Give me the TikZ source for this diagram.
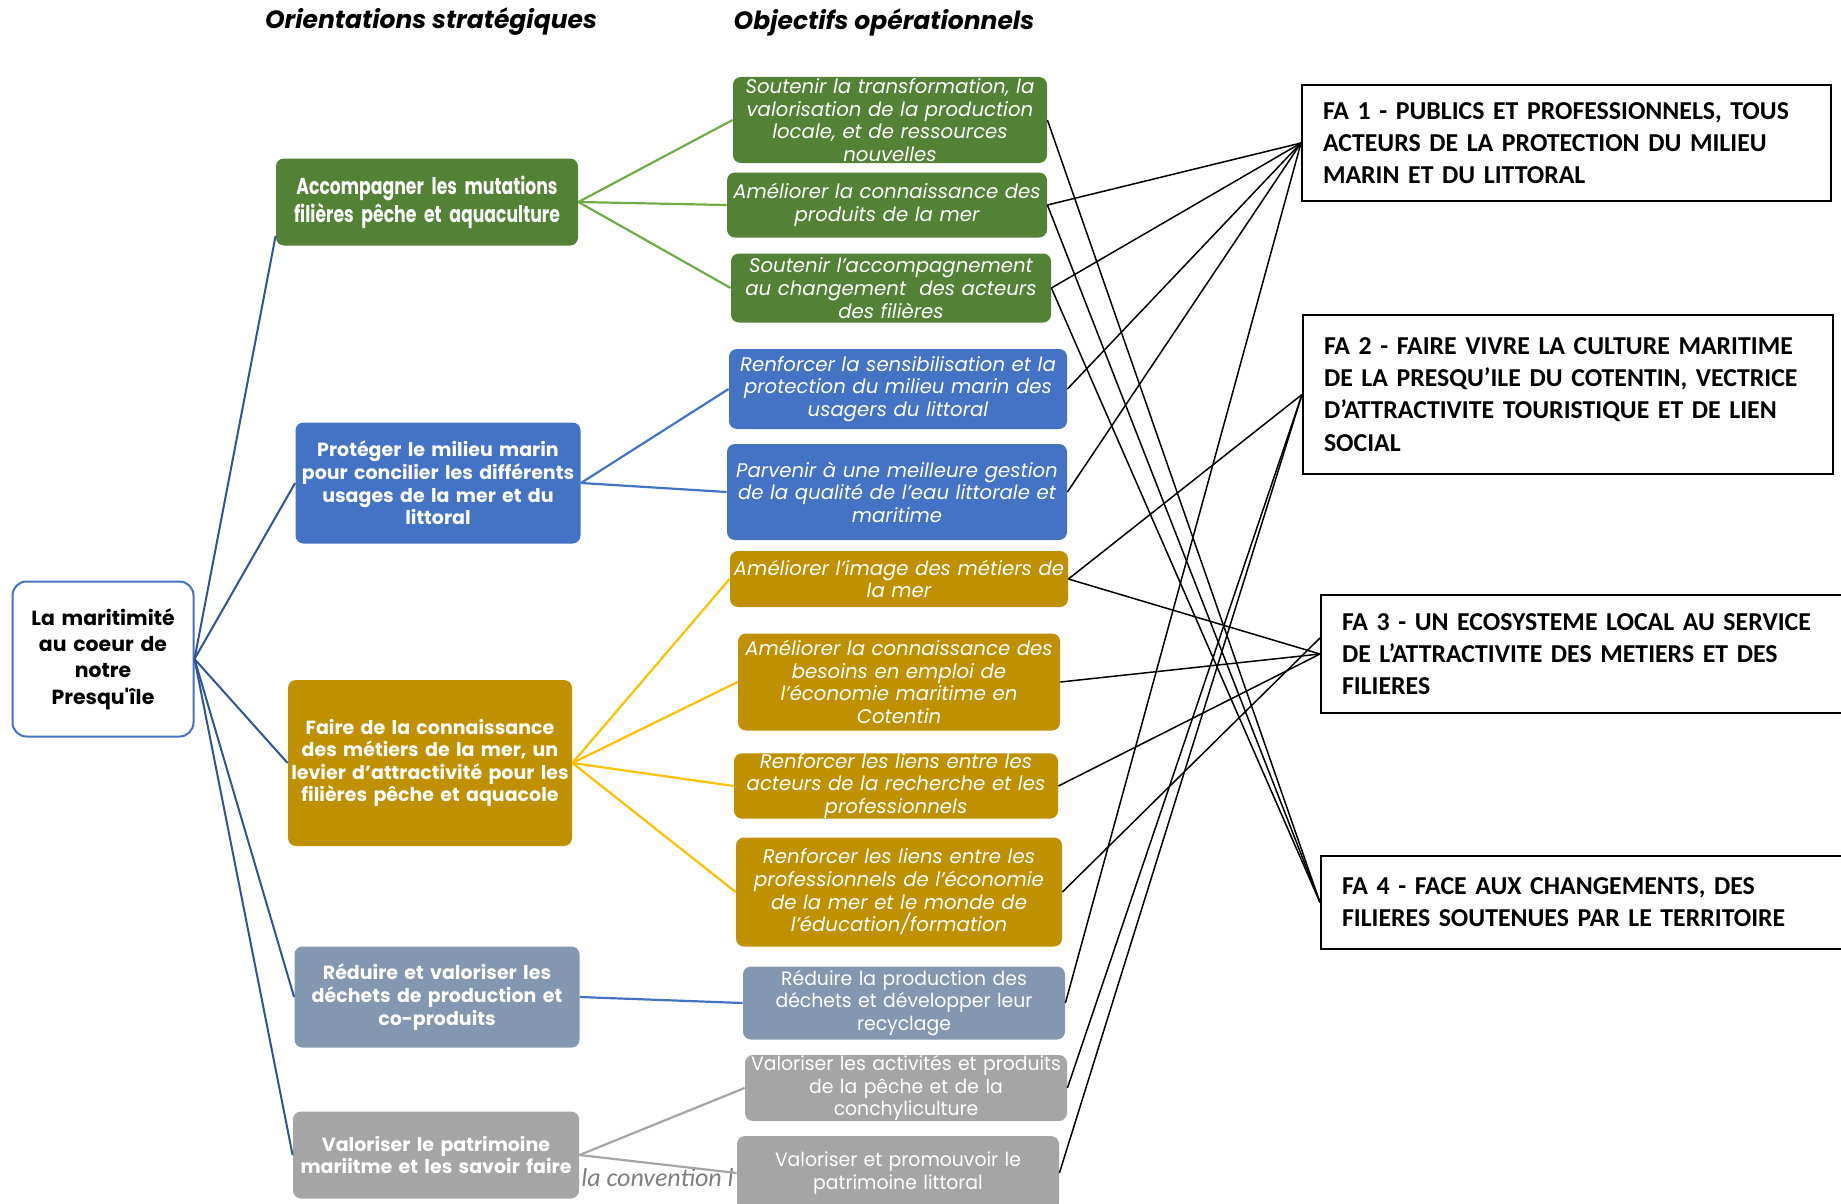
\documentclass[tikz,border=0pt]{standalone}
\usepackage{fontspec}
\setmainfont{Poppins}
\newfontfamily\gothic{Poppins}
\newfontfamily\gothiccond[FakeStretch=0.75]{Poppins}
\newfontfamily\gothicnarrow[FakeStretch=0.97]{Poppins}
\newfontfamily\calibri{Carlito}
\usetikzlibrary{calc}
\definecolor{gbox}{HTML}{538135}
\definecolor{gline}{HTML}{70AD47}
\definecolor{bbox}{HTML}{4472C4}
\definecolor{bline}{HTML}{4472C4}
\definecolor{rline}{HTML}{2F5597}
\definecolor{ybox}{HTML}{BF9000}
\definecolor{yline}{HTML}{FFC000}
\definecolor{sbox}{HTML}{8497B0}
\definecolor{gybox}{HTML}{A5A5A5}
\definecolor{gyline}{HTML}{A5A5A5}
\definecolor{conv}{HTML}{7F7F7F}
\begin{document}
\begin{tikzpicture}[x=0.5pt,y=-0.5pt,
  box/.style={rectangle, rounded corners=4pt, inner xsep=1pt, inner ysep=0pt, align=center, text=white},
  objbox/.style={box, font=\gothic\itshape\fontsize{9.85}{11.3}\selectfont},
  objnarrow/.style={box, font=\gothicnarrow\fontsize{9.7}{11.3}\selectfont},
  orbox/.style={box, font=\gothic\bfseries\fontsize{9.5}{11.3}\selectfont},
  orcond/.style={box, font=\gothiccond\bfseries\fontsize{11.5}{14}\selectfont},
  rootbox/.style={rectangle, rounded corners=7pt, draw=bbox, line width=1pt, fill=white, align=center, inner sep=0pt, font=\gothic\bfseries\fontsize{10.2}{13.1}\selectfont},
  fabox/.style={rectangle, draw=black, line width=1pt, fill=white, inner xsep=10.5pt, inner ysep=0pt, align=left, font=\calibri\bfseries\fontsize{12.9}{16.1}\selectfont},
  titlelbl/.style={font=\gothic\bfseries\itshape\fontsize{12.5}{15}\selectfont},
  convlbl/.style={font=\calibri\itshape\fontsize{13}{15}\selectfont, text=conv, inner sep=0pt},
  rootlink/.style={draw=rline, line width=1pt},
  greenlink/.style={draw=gline, line width=1.1pt},
  bluelink/.style={draw=bline, line width=1.1pt},
  yellowlink/.style={draw=yline, line width=1.1pt},
  graylink/.style={draw=gyline, line width=1.1pt},
  falink/.style={draw=black, line width=0.75pt}
]
\fill[white] (0,0) rectangle (1841,1204);
\useasboundingbox (0,0) rectangle (1841,1204);

% titles
\node[titlelbl] (t1) at (431,22) {Orientations stratégiques};
\node[titlelbl] (t2) at (884,22) {Objectifs opérationnels};

% root
\node[rootbox, minimum width=90.5pt, minimum height=77.5pt, text width=86pt] (root) at (103,659) {La maritimité\\au coeur de\\notre\\Presqu'île};

% orientations
\node[orcond, fill=gbox, minimum width=151pt, minimum height=43.5pt, text width=148pt] (O1) at (427,202) {Accompagner les mutations\\filières pêche et aquaculture};
\node[orbox, fill=bbox, minimum width=142.5pt, minimum height=60.5pt, text width=140pt] (O2) at (438,483) {Protéger le milieu marin\\pour concilier les différents\\usages de la mer et du\\littoral};
\node[orbox, fill=ybox, minimum width=142pt, minimum height=83pt, text width=140pt] (O3) at (430,763) {Faire de la connaissance\\des métiers de la mer, un\\levier d’attractivité pour les\\filières pêche et aquacole};
\node[orbox, fill=sbox, minimum width=142.5pt, minimum height=50.5pt, text width=140pt] (O4) at (437,997) {Réduire et valoriser les\\déchets de production et\\co-produits};

\node[convlbl, anchor=base west] (conv) at (581,1186) {la convention l};

\node[orbox, fill=gybox, minimum width=143pt, minimum height=43.5pt, text width=140pt] (O5) at (436,1155) {Valoriser le patrimoine\\mariitme et les savoir faire};

% objectives
\node[objbox, fill=gbox, minimum width=156.5pt, minimum height=43pt, text width=155pt] (A1) at (890,120) {Soutenir la transformation, la\\valorisation de la production\\locale, et de ressources\\nouvelles};
\node[objbox, fill=gbox, minimum width=159.5pt, minimum height=32.5pt, text width=158pt] (A2) at (887,205) {Améliorer la connaissance des\\produits de la mer};
\node[objbox, fill=gbox, minimum width=160pt, minimum height=34.5pt, text width=158pt] (A3) at (891,288) {Soutenir l’accompagnement\\au changement \ des acteurs\\des filières};
\node[objbox, fill=bbox, minimum width=168pt, minimum height=40pt, text width=167pt] (B1) at (898,389) {Renforcer la sensibilisation et la\\protection du milieu marin des\\usagers du littoral};
\node[objbox, fill=bbox, minimum width=169pt, minimum height=48pt, text width=168pt] (B2) at (897,492) {Parvenir à une meilleure gestion\\de la qualité de l’eau littorale et\\maritime};
\node[objbox, fill=ybox, minimum width=167.5pt, minimum height=28pt, text width=167pt] (C1) at (899,579) {Améliorer l’image des métiers de\\la mer};
\node[objbox, fill=ybox, minimum width=160.5pt, minimum height=48.5pt, text width=159pt] (C2) at (899,682) {Améliorer la connaissance des\\besoins en emploi de\\l’économie maritime en\\Cotentin};
\node[objbox, fill=ybox, minimum width=161pt, minimum height=32.5pt, text width=160pt] (C3) at (896,786) {Renforcer les liens entre les\\acteurs de la recherche et les\\professionnels};
\node[objbox, fill=ybox, minimum width=162pt, minimum height=54.5pt, text width=161pt] (C4) at (899,892) {Renforcer les liens entre les\\professionnels de l’économie\\de la mer et le monde de\\l’éducation/formation};
\node[objnarrow, fill=sbox, minimum width=160.5pt, minimum height=36.5pt, text width=159pt] (D1) at (904,1003) {Réduire la production des\\déchets et développer leur\\recyclage};
\node[objnarrow, fill=gybox, minimum width=159.5pt, minimum height=33pt, text width=159pt] (E1) at (906,1088) {Valoriser les activités et produits\\de la pêche et de la\\conchyliculture};
\node[objnarrow, fill=gybox, minimum width=161pt, minimum height=37pt, text width=159pt] (E2) at (898,1173) {Valoriser et promouvoir le\\patrimoine littoral};

% FA boxes
\node[fabox, minimum width=264.5pt, minimum height=58pt, text width=243.5pt] (FA1) at (1566.5,143) {FA 1 - PUBLICS ET PROFESSIONNELS, TOUS\\ACTEURS DE LA PROTECTION DU MILIEU\\MARIN ET DU LITTORAL};
\node[fabox, minimum width=265pt, minimum height=79.5pt, text width=244pt] (FA2) at (1568,394.5) {FA 2 - FAIRE VIVRE LA CULTURE MARITIME\\DE LA PRESQU’ILE DU COTENTIN, VECTRICE\\D’ATTRACTIVITE TOURISTIQUE ET DE LIEN\\SOCIAL};
\node[fabox, minimum width=269.5pt, minimum height=59pt, text width=248.5pt] (FA3) at (1590.5,654) {FA 3 - UN ECOSYSTEME LOCAL AU SERVICE\\DE L’ATTRACTIVITE DES METIERS ET DES\\FILIERES};
\node[fabox, minimum width=269.5pt, minimum height=46.5pt, text width=248.5pt] (FA4) at (1590.5,902.5) {FA 4 - FACE AUX CHANGEMENTS, DES\\FILIERES SOUTENUES PAR LE TERRITOIRE};

% root links
\draw[rootlink] (root.east) -- ([yshift=5pt]O1.south west);
\draw[rootlink] (root.east) -- (O2.west);
\draw[rootlink] (root.east) -- (O3.west);
\draw[rootlink] (root.east) -- (O4.west);
\draw[rootlink] (root.east) -- (O5.west);

% orientation -> objective links
\draw[greenlink] (O1.east) -- (A1.west);
\draw[greenlink] (O1.east) -- (A2.west);
\draw[greenlink] (O1.east) -- (A3.west);
\draw[bluelink] (O2.east) -- (B1.west);
\draw[bluelink] (O2.east) -- (B2.west);
\draw[yellowlink] (O3.east) -- (C1.west);
\draw[yellowlink] (O3.east) -- (C2.west);
\draw[yellowlink] (O3.east) -- (C3.west);
\draw[yellowlink] (O3.east) -- (C4.west);
\draw[bluelink] (O4.east) -- (D1.west);
\draw[graylink] (O5.east) -- (E1.west);
\draw[graylink] (O5.east) -- (E2.west);

% objective -> FA links
\draw[falink] (A2.east) -- (FA1.west);
\draw[falink] (A3.east) -- (FA1.west);
\draw[falink] (B1.east) -- (FA1.west);
\draw[falink] (B2.east) -- (FA1.west);
\draw[falink] (D1.east) -- (FA1.west);
\draw[falink] (C1.east) -- (FA2.west);
\draw[falink] (E1.east) -- (FA2.west);
\draw[falink] (E2.east) -- (FA2.west);
\draw[falink] (C1.east) -- (FA3.west);
\draw[falink] (C2.east) -- (FA3.west);
\draw[falink] (C3.east) -- (FA3.west);
\draw[falink] (C4.east) -- ([yshift=8pt]FA3.west);
\draw[falink] (A1.east) -- (FA4.west);
\draw[falink] (A2.east) -- (FA4.west);
\draw[falink] (A3.east) -- (FA4.west);
\end{tikzpicture}
\end{document}
